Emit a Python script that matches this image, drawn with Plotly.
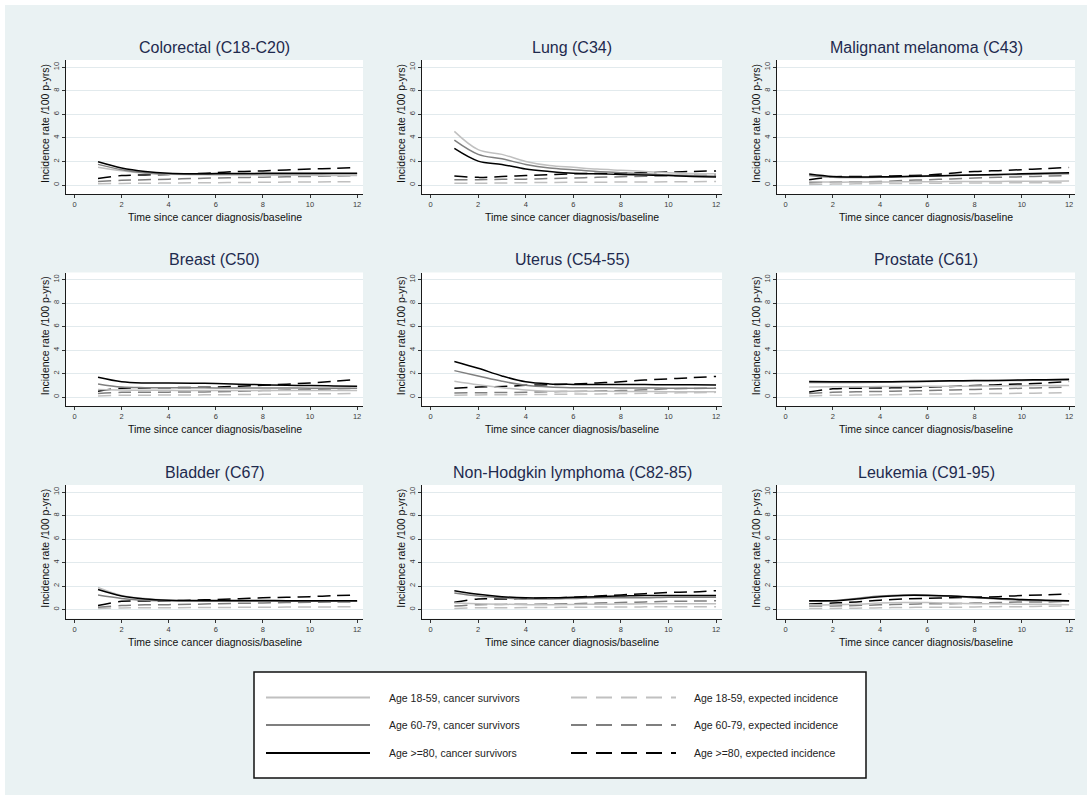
import plotly.graph_objects as go

# ---- data -----------------------------------------------------------------
years = [1, 2, 3, 4, 5, 6, 7, 8, 9, 10, 11, 12]
x_ticks = [0, 2, 4, 6, 8, 10, 12]
y_ticks = [0, 2, 4, 6, 8, 10]

panel_titles = [
    "Colorectal (C18-C20)", "Lung (C34)", "Malignant melanoma (C43)",
    "Breast (C50)", "Uterus (C54-55)", "Prostate (C61)",
    "Bladder (C67)", "Non-Hodgkin lymphoma (C82-85)", "Leukemia (C91-95)",
]

series_labels = [
    "Age 18-59, cancer survivors", "Age 60-79, cancer survivors", "Age >=80, cancer survivors",
    "Age 18-59, expected incidence", "Age 60-79, expected incidence", "Age >=80, expected incidence",
]

# incidence per 100 person-years; s = cancer survivors, e = expected; 1/2/3 = age 18-59 / 60-79 / >=80
crc_s1 = [1.50, 1.20, 1.00, 0.92, 0.88, 0.86, 0.85, 0.84, 0.83, 0.82, 0.81, 0.80]
crc_s2 = [1.75, 1.30, 1.05, 0.95, 0.92, 0.92, 0.93, 0.93, 0.94, 0.94, 0.95, 0.95]
crc_s3 = [1.97, 1.45, 1.15, 1.00, 0.96, 0.97, 0.98, 0.99, 1.00, 1.00, 1.00, 1.00]
crc_e1 = [0.10, 0.14, 0.15, 0.17, 0.19, 0.20, 0.22, 0.23, 0.25, 0.26, 0.27, 0.28]
crc_e2 = [0.30, 0.40, 0.45, 0.50, 0.55, 0.60, 0.63, 0.67, 0.70, 0.73, 0.77, 0.80]
crc_e3 = [0.56, 0.80, 0.85, 0.90, 0.95, 1.05, 1.15, 1.20, 1.28, 1.35, 1.42, 1.49]

lung_s1 = [4.55, 3.00, 2.60, 2.00, 1.65, 1.50, 1.35, 1.25, 1.15, 1.05, 0.98, 0.95]
lung_s2 = [3.80, 2.60, 2.22, 1.75, 1.45, 1.30, 1.15, 1.05, 0.95, 0.85, 0.80, 0.75]
lung_s3 = [3.10, 2.03, 1.75, 1.35, 1.15, 1.00, 0.95, 0.90, 0.85, 0.80, 0.72, 0.68]
lung_e1 = [0.15, 0.15, 0.17, 0.20, 0.22, 0.23, 0.24, 0.25, 0.26, 0.27, 0.28, 0.30]
lung_e2 = [0.45, 0.45, 0.48, 0.50, 0.55, 0.60, 0.65, 0.70, 0.75, 0.78, 0.82, 0.85]
lung_e3 = [0.76, 0.65, 0.72, 0.80, 0.88, 0.95, 0.98, 1.00, 1.05, 1.10, 1.15, 1.20]

mel_s1 = [0.30, 0.25, 0.25, 0.26, 0.27, 0.28, 0.29, 0.30, 0.31, 0.32, 0.33, 0.35]
mel_s2 = [0.80, 0.65, 0.63, 0.65, 0.70, 0.75, 0.80, 0.85, 0.88, 0.90, 0.93, 0.95]
mel_s3 = [0.93, 0.72, 0.68, 0.70, 0.72, 0.76, 0.80, 0.85, 0.90, 0.95, 1.00, 1.04]
mel_e1 = [0.05, 0.08, 0.10, 0.12, 0.13, 0.15, 0.16, 0.17, 0.18, 0.19, 0.19, 0.20]
mel_e2 = [0.20, 0.25, 0.28, 0.30, 0.38, 0.45, 0.52, 0.60, 0.65, 0.70, 0.75, 0.80]
mel_e3 = [0.45, 0.70, 0.72, 0.75, 0.80, 0.85, 1.00, 1.15, 1.22, 1.30, 1.40, 1.49]

brs_s1 = [0.65, 0.60, 0.58, 0.57, 0.56, 0.56, 0.55, 0.55, 0.55, 0.55, 0.55, 0.55]
brs_s2 = [1.12, 0.85, 0.80, 0.80, 0.79, 0.78, 0.78, 0.77, 0.77, 0.76, 0.76, 0.75]
brs_s3 = [1.68, 1.30, 1.20, 1.20, 1.18, 1.15, 1.10, 1.05, 1.00, 0.98, 0.95, 0.92]
brs_e1 = [0.10, 0.15, 0.16, 0.17, 0.18, 0.20, 0.21, 0.23, 0.25, 0.27, 0.28, 0.30]
brs_e2 = [0.30, 0.40, 0.41, 0.42, 0.43, 0.45, 0.50, 0.55, 0.60, 0.65, 0.70, 0.75]
brs_e3 = [0.50, 0.75, 0.78, 0.80, 0.82, 0.85, 0.92, 1.00, 1.10, 1.20, 1.35, 1.49]

ute_s1 = [1.35, 1.05, 0.80, 0.60, 0.50, 0.50, 0.49, 0.48, 0.47, 0.46, 0.45, 0.45]
ute_s2 = [2.25, 1.80, 1.35, 1.00, 0.85, 0.80, 0.79, 0.78, 0.77, 0.76, 0.75, 0.75]
ute_s3 = [3.03, 2.45, 1.80, 1.30, 1.12, 1.08, 1.07, 1.07, 1.06, 1.05, 1.04, 1.02]
ute_e1 = [0.15, 0.18, 0.20, 0.21, 0.23, 0.25, 0.27, 0.30, 0.32, 0.35, 0.37, 0.40]
ute_e2 = [0.35, 0.37, 0.39, 0.41, 0.45, 0.48, 0.52, 0.55, 0.62, 0.70, 0.73, 0.75]
ute_e3 = [0.76, 0.85, 0.90, 1.00, 1.05, 1.10, 1.20, 1.30, 1.45, 1.55, 1.65, 1.76]

pro_s1 = [0.86, 0.87, 0.88, 0.89, 0.90, 0.91, 0.92, 0.94, 0.95, 0.97, 0.98, 0.99]
pro_s2 = [1.25, 1.25, 1.25, 1.27, 1.30, 1.33, 1.36, 1.38, 1.40, 1.42, 1.44, 1.45]
pro_s3 = [1.32, 1.30, 1.30, 1.30, 1.32, 1.35, 1.38, 1.40, 1.42, 1.45, 1.48, 1.52]
pro_e1 = [0.10, 0.15, 0.17, 0.19, 0.22, 0.25, 0.27, 0.29, 0.30, 0.32, 0.34, 0.37]
pro_e2 = [0.30, 0.40, 0.45, 0.48, 0.52, 0.55, 0.60, 0.65, 0.70, 0.75, 0.80, 0.85]
pro_e3 = [0.43, 0.70, 0.75, 0.77, 0.80, 0.85, 0.90, 0.98, 1.05, 1.12, 1.20, 1.32]

bla_s1 = [1.88, 1.20, 0.95, 0.80, 0.75, 0.73, 0.72, 0.71, 0.70, 0.70, 0.70, 0.70]
bla_s2 = [1.24, 0.95, 0.80, 0.75, 0.72, 0.71, 0.70, 0.70, 0.70, 0.70, 0.70, 0.70]
bla_s3 = [1.70, 1.15, 0.90, 0.80, 0.78, 0.78, 0.77, 0.77, 0.76, 0.76, 0.75, 0.75]
bla_e1 = [0.10, 0.14, 0.15, 0.16, 0.17, 0.18, 0.19, 0.20, 0.21, 0.22, 0.23, 0.25]
bla_e2 = [0.20, 0.35, 0.40, 0.42, 0.45, 0.50, 0.53, 0.56, 0.60, 0.62, 0.64, 0.65]
bla_e3 = [0.34, 0.70, 0.72, 0.75, 0.80, 0.85, 0.92, 1.00, 1.05, 1.10, 1.18, 1.24]

nhl_s1 = [0.55, 0.50, 0.45, 0.42, 0.42, 0.43, 0.45, 0.47, 0.50, 0.50, 0.50, 0.50]
nhl_s2 = [1.41, 1.15, 1.00, 0.90, 0.90, 0.95, 1.00, 1.00, 1.00, 1.05, 1.05, 1.05]
nhl_s3 = [1.61, 1.30, 1.10, 1.00, 1.00, 1.05, 1.10, 1.15, 1.20, 1.20, 1.20, 1.19]
nhl_e1 = [0.10, 0.15, 0.16, 0.17, 0.18, 0.20, 0.21, 0.22, 0.23, 0.24, 0.24, 0.25]
nhl_e2 = [0.30, 0.42, 0.44, 0.45, 0.47, 0.50, 0.55, 0.60, 0.65, 0.70, 0.72, 0.75]
nhl_e3 = [0.62, 0.90, 0.90, 0.95, 1.00, 1.05, 1.15, 1.25, 1.35, 1.45, 1.50, 1.61]

leu_s1 = [0.40, 0.40, 0.45, 0.55, 0.60, 0.60, 0.55, 0.50, 0.50, 0.45, 0.45, 0.40]
leu_s2 = [0.70, 0.75, 0.95, 1.15, 1.25, 1.25, 1.15, 1.00, 0.90, 0.80, 0.75, 0.70]
leu_s3 = [0.76, 0.75, 0.90, 1.10, 1.20, 1.20, 1.15, 1.05, 0.95, 0.85, 0.80, 0.76]
leu_e1 = [0.10, 0.10, 0.12, 0.15, 0.18, 0.20, 0.20, 0.22, 0.25, 0.25, 0.28, 0.30]
leu_e2 = [0.30, 0.30, 0.35, 0.40, 0.45, 0.50, 0.50, 0.55, 0.60, 0.65, 0.65, 0.70]
leu_e3 = [0.48, 0.55, 0.65, 0.80, 0.90, 0.95, 1.00, 1.05, 1.10, 1.20, 1.25, 1.33]

panel_series = [
    [crc_s1, crc_s2, crc_s3, crc_e1, crc_e2, crc_e3],
    [lung_s1, lung_s2, lung_s3, lung_e1, lung_e2, lung_e3],
    [mel_s1, mel_s2, mel_s3, mel_e1, mel_e2, mel_e3],
    [brs_s1, brs_s2, brs_s3, brs_e1, brs_e2, brs_e3],
    [ute_s1, ute_s2, ute_s3, ute_e1, ute_e2, ute_e3],
    [pro_s1, pro_s2, pro_s3, pro_e1, pro_e2, pro_e3],
    [bla_s1, bla_s2, bla_s3, bla_e1, bla_e2, bla_e3],
    [nhl_s1, nhl_s2, nhl_s3, nhl_e1, nhl_e2, nhl_e3],
    [leu_s1, leu_s2, leu_s3, leu_e1, leu_e2, leu_e3],
]

# ---- styling ----------------------------------------------------------------
W, H = 1092, 800
BG = "#EAF2F3"
GRID = "#E2EAED"
TITLE_COLOR = "#1E2A4E"
FONT = "Liberation Sans, Arial, sans-serif"
LINE_COLORS = ["#C0C0C0", "#7F7F7F", "#000000"]
DASH = "13px,7px"

# subplot frames in pixels: column (left, right), row (top, bottom)
col_px = [(66, 363), (422, 722), (777, 1075)]
row_px = [(60, 194), (272.5, 406), (485, 618.5)]
X_RANGE = [-0.36, 12.25]
Y_RANGE = [-0.76, 10.6]


def px_x(v):
    return v / W


def px_y(v):
    return 1 - v / H


fig = go.Figure()
layout = {}
annotations = []

for idx in range(9):
    r, c = divmod(idx, 3)
    n = idx + 1
    xa = "x" if n == 1 else f"x{n}"
    ya = "y" if n == 1 else f"y{n}"
    xkey = "xaxis" if n == 1 else f"xaxis{n}"
    ykey = "yaxis" if n == 1 else f"yaxis{n}"
    left, right = col_px[c]
    top, bottom = row_px[r]

    series = panel_series[idx]
    # expected incidence (dashed) underneath, survivors (solid) on top
    for k in [3, 4, 5, 0, 1, 2]:
        fig.add_trace(go.Scatter(
            x=years, y=series[k], xaxis=xa, yaxis=ya,
            mode="lines", line_shape="spline",
            line=dict(color=LINE_COLORS[k % 3], width=1.5,
                      dash=DASH if k >= 3 else "solid"),
            name=series_labels[k], showlegend=False, hoverinfo="skip",
        ))

    layout[xkey] = dict(
        domain=[px_x(left), px_x(right)], anchor=ya, range=X_RANGE,
        tickmode="array", tickvals=x_ticks, showgrid=False, zeroline=False,
        showline=True, linecolor="#1a1a1a", linewidth=1,
        ticks="outside", ticklen=3, tickwidth=1, tickcolor="#333333",
        tickfont=dict(family=FONT, size=7.5, color="#3a3a3a"),
    )
    layout[ykey] = dict(
        domain=[px_y(bottom), px_y(top)], anchor=xa, range=Y_RANGE,
        tickmode="array", tickvals=y_ticks, tickangle=-90,
        showgrid=True, gridcolor=GRID, gridwidth=1, zeroline=False,
        showline=True, linecolor="#1a1a1a", linewidth=1,
        ticks="outside", ticklen=3, tickwidth=1, tickcolor="#333333",
        tickfont=dict(family=FONT, size=7.5, color="#3a3a3a"),
    )

    cx = (left + right) / 2
    annotations.append(dict(
        text=panel_titles[idx], xref="paper", yref="paper",
        x=px_x(cx), y=px_y(top - 12.5), xanchor="center", yanchor="middle",
        showarrow=False, font=dict(family=FONT, size=16, color=TITLE_COLOR),
    ))
    annotations.append(dict(
        text="Time since cancer diagnosis/baseline", xref="paper", yref="paper",
        x=px_x(cx), y=px_y(bottom + 15), xanchor="center", yanchor="top",
        showarrow=False, font=dict(family=FONT, size=10.5, color="#111111"),
    ))
    annotations.append(dict(
        text="Incidence rate /100 p-yrs)", xref="paper", yref="paper",
        x=px_x(left - 21), y=px_y((top + bottom) / 2 - 3), xanchor="center",
        yanchor="middle", textangle=-90, showarrow=False,
        font=dict(family=FONT, size=10.5, color="#111111"),
    ))

# ---- legend box drawn as a keyed panel below the grid ----------------------
shapes = [
    # thin white frame around the whole graph region
    dict(type="rect", xref="paper", yref="paper", x0=0, y0=0, x1=1, y1=1,
         line=dict(color="white", width=10), fillcolor="rgba(0,0,0,0)", layer="above"),
    dict(type="rect", xref="paper", yref="paper",
         x0=px_x(254), x1=px_x(866), y0=px_y(778), y1=px_y(672),
         line=dict(color="#111111", width=1.5), fillcolor="white", layer="above"),
]
legend_rows = [697.5, 725, 753]
for i, yy in enumerate(legend_rows):
    shapes.append(dict(type="line", xref="paper", yref="paper",
                       x0=px_x(266), x1=px_x(370), y0=px_y(yy), y1=px_y(yy),
                       line=dict(color=LINE_COLORS[i], width=2.2), layer="above"))
    shapes.append(dict(type="line", xref="paper", yref="paper",
                       x0=px_x(571), x1=px_x(676), y0=px_y(yy), y1=px_y(yy),
                       line=dict(color=LINE_COLORS[i], width=2.2, dash="16px,9px"),
                       layer="above"))
    annotations.append(dict(
        text=series_labels[i], xref="paper", yref="paper",
        x=px_x(387), y=px_y(yy), xanchor="left", yanchor="middle",
        showarrow=False, font=dict(family=FONT, size=10.5, color="#222222"),
    ))
    annotations.append(dict(
        text=series_labels[i + 3], xref="paper", yref="paper",
        x=px_x(692), y=px_y(yy), xanchor="left", yanchor="middle",
        showarrow=False, font=dict(family=FONT, size=10.5, color="#222222"),
    ))

fig.update_layout(
    width=W, height=H,
    margin=dict(l=0, r=0, t=0, b=0),
    paper_bgcolor=BG, plot_bgcolor="white",
    showlegend=False,
    annotations=annotations, shapes=shapes,
    font=dict(family=FONT),
    **layout,
)

fig.write_html("out.html")
